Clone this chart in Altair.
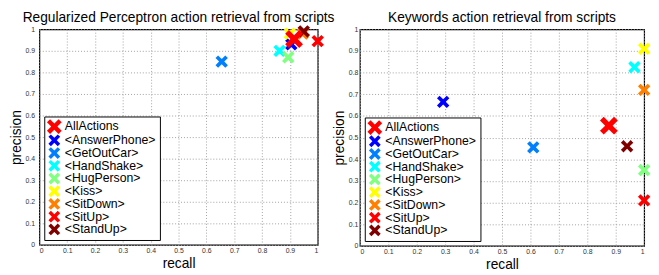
import altair as alt
import pandas as pd

actions = ["AllActions", "<AnswerPhone>", "<GetOutCar>", "<HandShake>", "<HugPerson>",
           "<Kiss>", "<SitDown>", "<SitUp>", "<StandUp>"]
colors = ["#ff0000", "#0000ff", "#0080ff", "#00ffff", "#80ff80",
          "#ffff00", "#ff8000", "#ff0000", "#800000"]
sizes = [330, 160, 160, 160, 160, 160, 160, 160, 160]

perc_recall = [0.915, 0.905, 0.655, 0.863, 0.894, 0.90, 0.946, 1.0, 0.95]
perc_precision = [0.955, 0.93, 0.85, 0.90, 0.87, 0.98, 0.98, 0.945, 0.99]
kw_recall = [0.876, 0.293, 0.61, 0.966, 1.0, 1.0, 1.0, 1.0, 0.94]
kw_precision = [0.555, 0.665, 0.455, 0.825, 0.35, 0.91, 0.72, 0.21, 0.46]

tick_values = [0, 0.1, 0.2, 0.3, 0.4, 0.5, 0.6, 0.7, 0.8, 0.9, 1]

FONT = "Liberation Sans"
# filled X-shaped polygon (no stroke, so its bounds are exact)
XPATH = ("M-1,-0.58L-0.58,-1L0,-0.42L0.58,-1L1,-0.58L0.42,0L1,0.58L0.58,1"
         "L0,0.42L-0.58,1L-1,0.58L-0.42,0Z")


def panel(rec, prec, title, w, h, ylabpad):
    df = pd.DataFrame({"action": actions, "recall": rec, "precision": prec,
                       "sz": sizes, "draw": [9, 1, 2, 3, 4, 5, 6, 7, 8]})
    legend = alt.Legend(title=None, orient="bottom-left", offset=5, padding=4,
                        strokeColor="black", fillColor="white",
                        labelFont=FONT, labelFontSize=12.5, labelColor="black",
                        symbolType=XPATH, symbolStrokeWidth=0,
                        symbolSize={"expr": "datum.value == 'AllActions' ? 225 : 144"},
                        rowPadding=0, labelOffset=4.5, labelLimit=200)
    return alt.Chart(
        df,
        title=alt.TitleParams(title, fontSize=14, font=FONT, fontWeight="normal",
                              color="black", offset=0),
    ).mark_point(shape=XPATH, filled=True, opacity=1, clip=False).encode(
        x=alt.X("recall:Q",
                scale=alt.Scale(domain=[0, 1], nice=False, zero=True),
                axis=alt.Axis(values=tick_values, format="~g", title="recall",
                              labelPadding=2, titlePadding=3)),
        y=alt.Y("precision:Q",
                scale=alt.Scale(domain=[0, 1], nice=False, zero=True),
                axis=alt.Axis(values=tick_values, format="~g", title="precision",
                              labelPadding=ylabpad, titlePadding=2)),
        color=alt.Color("action:N", scale=alt.Scale(domain=actions, range=colors),
                        legend=legend),
        size=alt.Size("sz:Q", scale=None, legend=None),
        order=alt.Order("draw:Q"),
    ).properties(width=w, height=h)


left = panel(perc_recall, perc_precision,
             "Regularized Perceptron action retrieval from scripts", 284, 220, 5)
right = panel(kw_recall, kw_precision,
              "Keywords action retrieval from scripts", 290, 221, 2)

chart = alt.hconcat(left, right, spacing=43, bounds="flush").resolve_scale(
    color="independent"
).resolve_legend(color="independent").configure_view(
    stroke="black", strokeWidth=1.2
).configure_axis(
    labelFont=FONT, labelFontSize=7, labelColor="#333333",
    titleFont=FONT, titleFontSize=14, titleFontWeight="normal", titleColor="black",
    ticks=False, tickSize=0, domain=False,
    grid=True, gridColor="#a0a0a0", gridDash=[1, 2], gridWidth=1,
).properties(padding=0, background="white")

chart.save("out.html", embed_options={"renderer": "svg", "actions": False})
